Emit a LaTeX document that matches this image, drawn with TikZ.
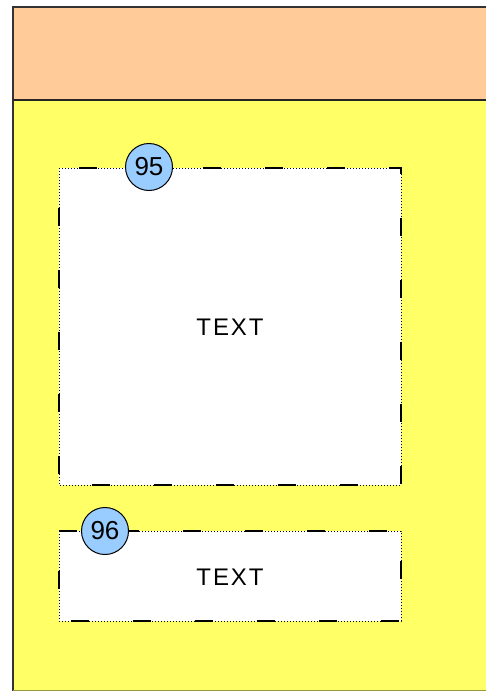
\documentclass[tikz,border=0pt]{standalone}
\usepackage{fontspec}
\setmainfont{Liberation Sans}
\definecolor{peach}{HTML}{FFCC99}
\definecolor{lane}{HTML}{FFFF66}
\definecolor{badge}{HTML}{99CCFF}
\begin{document}
\begin{tikzpicture}[x=1pt,y=-1pt,
  framebox/.style={fill=white,draw=black,line width=1pt,dash pattern=on 1pt off 2pt},
  dashlayer/.style={draw=black,line width=2pt,dash pattern=on 18pt off 44pt},
  badgenode/.style={circle,draw=black,fill=badge,line width=1pt,minimum size=47pt,inner sep=0pt,font=\fontsize{26}{26}\selectfont},
  label/.style={font=\addfontfeature{LetterSpace=8}\fontsize{24}{24}\selectfont}]
\useasboundingbox (0,0) rectangle (485,691);
% lane
\fill[lane] (13,100) rectangle (490,690);
\fill[peach] (13,7) rectangle (490,100);
\draw[line width=1.5pt,black!80] (13,691) -- (13,7) -- (490,7);
\draw[line width=1.5pt,black!85] (13,100) -- (490,100);
\draw[line width=1pt,black!40!lane] (13,690) -- (490,690);
% box 1
\coordinate (b1a) at (59,168);
\coordinate (b1b) at (401,485);
\filldraw[framebox] (b1a) rectangle (b1b);
\draw[dashlayer,dash phase=-40pt] (b1a) rectangle (b1b);
\node[label] (t1) at (230,327) {TEXT};
\node[badgenode] (n95) at (149,167) {95};
% box 2
\coordinate (b2a) at (59,531);
\coordinate (b2b) at (401,621);
\filldraw[framebox] (b2a) rectangle (b2b);
\draw[dashlayer,dash phase=-40pt] (b2a) rectangle (b2b);
\node[label] (t2) at (230,577) {TEXT};
\node[badgenode] (n96) at (105,531) {96};
\end{tikzpicture}
\end{document}
